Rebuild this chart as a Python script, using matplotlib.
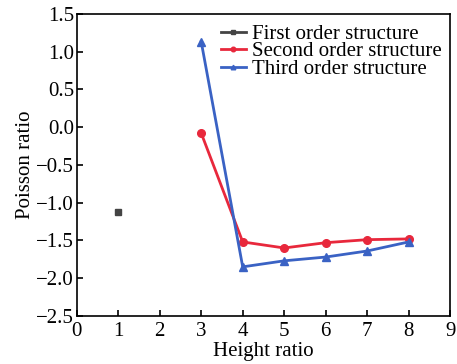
import matplotlib
matplotlib.use("Agg")
import matplotlib.pyplot as plt

plt.rcParams['font.family'] = ['Liberation Serif', 'DejaVu Serif']

# data
x1 = [1]
y1 = [-1.13]
x2 = [3, 4, 5, 6, 7, 8]
y2 = [-0.08, -1.52, -1.60, -1.53, -1.49, -1.48]
x3 = [3, 4, 5, 6, 7, 8]
y3 = [1.13, -1.85, -1.77, -1.72, -1.64, -1.52]
labels = ["First order structure", "Second order structure", "Third order structure"]

fig = plt.figure(figsize=(4.57, 3.64), dpi=100)
ax = fig.add_axes([0.168, 0.132, 0.817, 0.830])

ax.plot(x1, y1, color="#444444", marker="s", markersize=5, lw=2, label=labels[0])
ax.plot(x2, y2, color="#e8283c", marker="o", markersize=5.5, lw=2, label=labels[1])
ax.plot(x3, y3, color="#3a62c4", marker="^", markersize=5.5, lw=2, label=labels[2])

ax.set_xlim(0, 9)
ax.set_ylim(-2.5, 1.5)
ax.set_xticks(range(0, 10))
ax.set_yticks([-2.5, -2.0, -1.5, -1.0, -0.5, 0.0, 0.5, 1.0, 1.5])
ax.set_yticklabels(["\u22122.5", "\u22122.0", "\u22121.5", "\u22121.0", "\u22120.5", "0.0", "0.5", "1.0", "1.5"])
ax.tick_params(direction="in", labelsize=15, length=4, width=1.2, top=False, right=False)
ax.tick_params(axis="x", pad=4)
ax.tick_params(axis="y", pad=2)
for s in ax.spines.values():
    s.set_linewidth(1.2)

ax.set_xlabel("Height ratio", fontsize=15, labelpad=1)
ax.set_ylabel("Poisson ratio", fontsize=15, labelpad=1)

ax.legend(loc="upper right", bbox_to_anchor=(1.005, 1.0), frameon=False, fontsize=15,
          handlelength=1.2, handletextpad=0.3, labelspacing=-0.1, borderaxespad=0.1,
          markerscale=0.6)

fig.savefig("out.png", dpi=100)
